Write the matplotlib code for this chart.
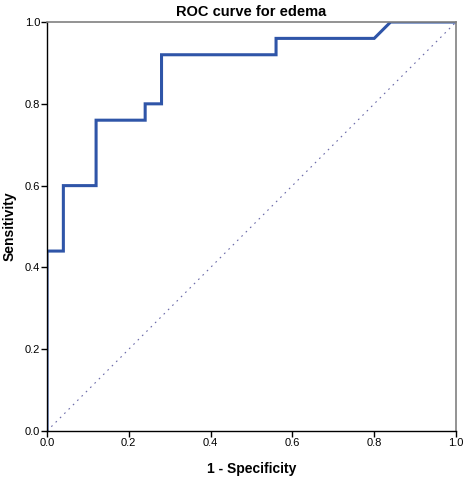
import numpy as np
import matplotlib
matplotlib.use("Agg")
import matplotlib.pyplot as plt

plt.rcParams['font.family'] = ['Liberation Sans', 'DejaVu Sans']

# ROC points (1 - specificity, sensitivity)
fpr = [0.0, 0.0, 0.04, 0.04, 0.12, 0.12, 0.24, 0.24, 0.28, 0.28, 0.56, 0.56, 0.80, 0.84, 1.0]
tpr = [0.0, 0.44, 0.44, 0.60, 0.60, 0.76, 0.76, 0.80, 0.80, 0.92, 0.92, 0.96, 0.96, 1.0, 1.0]
ticks = [0.0, 0.2, 0.4, 0.6, 0.8, 1.0]
tick_labels = ['0.0', '0.2', '0.4', '0.6', '0.8', '1.0']

fig = plt.figure(figsize=(4.64, 4.79), dpi=100)
ax = fig.add_axes([0.1013, 0.1002, 0.8815, 0.8538])

ax.plot([0, 1], [0, 1], color='#6a6aa8', lw=0.8, dashes=(1.5, 4))
ax.plot(fpr, tpr, color='#2f55a8', lw=2.2, solid_joinstyle='miter')

ax.set_xlim(0, 1)
ax.set_ylim(0, 1)
ax.set_xticks(ticks)
ax.set_xticklabels(tick_labels)
ax.set_yticks(ticks)
ax.set_yticklabels(tick_labels)
ax.tick_params(direction='out', length=4, width=1, labelsize=8, pad=1, colors='black')

for s in ['left', 'bottom']:
    ax.spines[s].set_color('black')
    ax.spines[s].set_linewidth(1)
for s in ['top', 'right']:
    ax.spines[s].set_color('#808080')
    ax.spines[s].set_linewidth(1.2)

ax.set_xlabel('1 - Specificity', fontsize=10, fontweight='bold', labelpad=10)
ax.set_ylabel('Sensitivity', fontsize=10, fontweight='bold', labelpad=6)
ax.set_title('ROC curve for edema', fontsize=10.5, fontweight='bold', pad=4)

fig.savefig('out.png', dpi=100)
